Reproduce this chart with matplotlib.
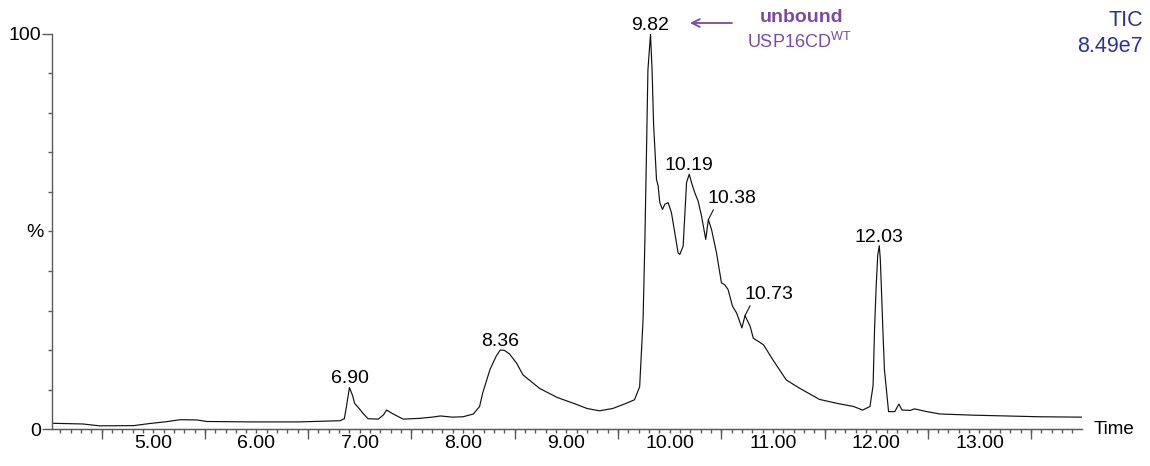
import numpy as np
import matplotlib
matplotlib.use('Agg')
import matplotlib.pyplot as plt
from matplotlib.ticker import MultipleLocator, FixedLocator, NullFormatter

plt.rcParams['font.family'] = ['Liberation Sans', 'DejaVu Sans']
plt.rcParams['mathtext.fontset'] = 'custom'
plt.rcParams['mathtext.rm'] = 'Liberation Sans'

# TIC trace (time in min, relative intensity %)
time = [4.02, 4.32, 4.48, 4.81, 4.97, 5.13, 5.26, 5.42, 5.52, 5.94, 6.42, 6.81,
        6.85, 6.87, 6.90, 6.93, 6.95, 7.00, 7.03, 7.08, 7.18, 7.23, 7.26, 7.31,
        7.42, 7.58, 7.70, 7.78, 7.90, 8.00, 8.10, 8.16, 8.19, 8.26, 8.32, 8.36,
        8.40, 8.45, 8.52, 8.58, 8.74, 8.91, 9.07, 9.20, 9.32, 9.45, 9.58, 9.66,
        9.71, 9.743, 9.76, 9.776, 9.79, 9.815, 9.83, 9.845, 9.873, 9.889, 9.905,
        9.931, 9.954, 9.986, 10.018, 10.05, 10.082, 10.099, 10.131, 10.164,
        10.19, 10.212, 10.244, 10.276, 10.309, 10.35, 10.375, 10.406, 10.454,
        10.502, 10.534, 10.566, 10.61, 10.648, 10.70, 10.73, 10.78, 10.81,
        10.91, 11.00, 11.13, 11.26, 11.45, 11.62, 11.78, 11.87, 11.94, 11.97,
        11.985, 12.00, 12.015, 12.03, 12.04, 12.05, 12.065, 12.08, 12.12,
        12.18, 12.22, 12.25, 12.33, 12.37, 12.49, 12.62, 12.94, 13.26, 13.58,
        13.99]
intensity = [1.45, 1.27, 0.8, 0.85, 1.4, 1.85, 2.35, 2.3, 1.9, 1.8, 1.8, 2.1,
             2.6, 5.5, 10.5, 8.5, 6.5, 5.0, 4.0, 2.6, 2.5, 3.6, 4.8, 4.0,
             2.5, 2.7, 3.0, 3.3, 3.0, 3.1, 3.8, 5.7, 9.1, 15.0, 18.4, 20.0,
             19.9, 19.0, 16.6, 13.7, 10.3, 8.0, 6.5, 5.2, 4.6, 5.2, 6.5, 7.4,
             10.7, 27.7, 47.0, 70.0, 90.9, 100.0, 91.0, 77.0, 63.2, 61.5, 57.3,
             55.6, 56.9, 57.3, 54.7, 49.7, 44.6, 44.2, 46.3, 62.4,
             64.5, 62.4, 59.8, 57.7, 53.9, 48.0, 53.0, 50.5, 44.6,
             37.0, 36.5, 35.3, 31.0, 29.4, 25.6, 28.7, 26.0, 23.0,
             21.3, 17.5, 12.4, 10.3, 7.5, 6.5, 5.7, 4.8, 5.7, 11.0,
             25.9, 36.1, 44.0, 46.4, 43.0, 36.1, 25.0, 15.0, 4.4,
             4.4, 6.3, 4.8, 4.7, 5.1, 4.4, 3.8, 3.5, 3.3, 3.1,
             3.0]

peak_times = [6.90, 8.36, 9.815, 10.19, 10.375, 10.73, 12.03]
peak_labels = ['6.90', '8.36', '9.82', '10.19', '10.38', '10.73', '12.03']
leader_peaks = ['10.38', '10.73']

purple = '#7d4a9e'
navy = '#2e3192'
grey = '#5a5a5a'

fig = plt.figure(figsize=(11.5, 4.66), dpi=100)
ax = fig.add_axes([52 / 1150, 37 / 466, 1029.7 / 1150, 395 / 466])

ax.plot(time, intensity, color='#111111', lw=0.85)
ax.set_xlim(4.02, 13.99)
ax.set_ylim(0, 100)

for s in ['top', 'right']:
    ax.spines[s].set_visible(False)
for s in ['left', 'bottom']:
    ax.spines[s].set_color(grey)
    ax.spines[s].set_linewidth(1.0)

# x ticks: labels on whole minutes, short ticks every 0.1, long ones on the half
ax.xaxis.set_major_locator(FixedLocator(np.arange(5, 14)))
ax.xaxis.set_major_formatter(plt.FuncFormatter(lambda v, p: f'{v:.2f}'))
ax.xaxis.set_minor_locator(MultipleLocator(0.1))
ax.tick_params(axis='x', which='both', direction='out', length=3, width=1,
               color=grey, labelsize=14, pad=1)
sec = ax.secondary_xaxis('bottom')
sec.set_xticks(np.arange(4.5, 14, 1.0))
sec.xaxis.set_major_formatter(NullFormatter())
sec.tick_params(axis='x', length=7, width=1, color=grey)
sec.spines['bottom'].set_color(grey)

# y ticks: 0 and 100 labelled, short ticks every 10
ax.yaxis.set_major_locator(FixedLocator([0, 100]))
ax.yaxis.set_minor_locator(MultipleLocator(10))
ax.tick_params(axis='y', which='major', length=7, width=1, color=grey,
               labelsize=14, pad=1)
ax.tick_params(axis='y', which='minor', length=3, width=1, color=grey)

fig.text(35 / 1150, 1 - 232 / 466, '%', fontsize=14, ha='center', va='center')
fig.text(1094 / 1150, 1 - 430 / 466, 'Time', fontsize=13.5, ha='left', va='center')

# peak labels
for t, lab in zip(peak_times, peak_labels):
    h = np.interp(t, time, intensity)
    if lab in leader_peaks:
        ax.annotate(lab, xy=(t, h), xytext=(17, 12), textcoords='offset points',
                    ha='center', va='baseline', fontsize=14,
                    arrowprops=dict(arrowstyle='-', lw=0.8, color='#111111',
                                    relpos=(0.15, 0.0), shrinkA=0, shrinkB=0))
    else:
        ax.annotate(lab, xy=(t, h), xytext=(0, 3), textcoords='offset points',
                    ha='center', va='baseline', fontsize=14)

# unbound USP16CD annotation
fig.text(802 / 1150, 1 - 17 / 466, 'unbound', color=purple, fontsize=14,
         fontweight='bold', ha='center', va='center')
fig.text(747 / 1150, 1 - 42 / 466, r'USP16CD$^{\mathrm{WT}}$', color=purple,
         fontsize=13, ha='left', va='center')
ax.annotate('', xy=(690 / 1150, 1 - 23 / 466), xycoords='figure fraction',
            xytext=(732 / 1150, 1 - 23 / 466), textcoords='figure fraction',
            arrowprops=dict(arrowstyle='->', color=purple, lw=1.3,
                            shrinkA=0, shrinkB=0, mutation_scale=14))

fig.text(1143 / 1150, 1 - 20 / 466, 'TIC', color=navy, fontsize=15.5,
         ha='right', va='center')
fig.text(1143 / 1150, 1 - 46 / 466, '8.49e7', color=navy, fontsize=15.5,
         ha='right', va='center')

fig.savefig('out.png', dpi=100)
